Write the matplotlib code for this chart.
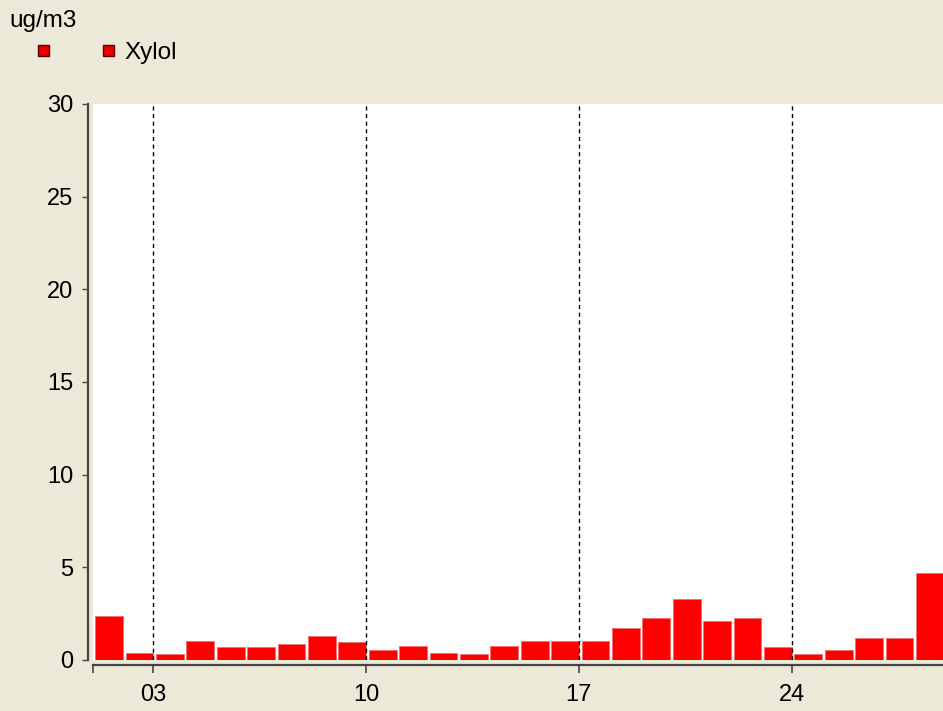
import matplotlib.pyplot as plt
from matplotlib.patches import Rectangle

# daily Xylol values (ug/m3), days 1..28 of the month
days = list(range(1, 29))
xylol = [2.4, 0.4, 0.3, 1.0, 0.7, 0.7, 0.85, 1.3, 0.95, 0.55,
         0.75, 0.4, 0.3, 0.75, 1.0, 1.0, 1.0, 1.7, 2.25, 3.3,
         2.1, 2.25, 0.7, 0.3, 0.55, 1.2, 1.2, 4.7]

week_ticks = [3, 10, 17, 24]
week_labels = ['03', '10', '17', '24']
y_ticks = [0, 5, 10, 15, 20, 25, 30]

bg = '#ECE9D8'
plt.rcParams['font.family'] = ['Liberation Sans', 'DejaVu Sans']

W, H = 943, 711
fig = plt.figure(figsize=(W / 100, H / 100), dpi=100, facecolor=bg)
ax = fig.add_axes([92.5 / W, (H - 660) / H, 1 - 92.5 / W, (660 - 104) / H])
ax.set_facecolor('white')

ax.bar([d + 0.09 for d in days], xylol, width=0.91, align='edge',
       color='#FF0000', edgecolor='#F07070', lw=0.6, zorder=2)

for d in week_ticks:
    ax.axvline(d, color='black', lw=1, ls=(0, (3, 2.5)), zorder=3)

ax.set_xlim(1, 1 + (W - 92.5) / 30.4)
ax.set_ylim(0, 30)

ax.set_xticks([1] + week_ticks)
ax.set_xticklabels([''] + week_labels)
ax.set_yticks(y_ticks)
ax.set_yticklabels([str(v) for v in y_ticks])

for side in ['top', 'right']:
    ax.spines[side].set_visible(False)
for side in ['left', 'bottom']:
    ax.spines[side].set_position(('outward', 3.6))
    ax.spines[side].set_color('#444444')
    ax.spines[side].set_linewidth(1.6)

ax.tick_params(axis='y', length=4, width=1, color='#444444', pad=6,
               labelsize=17)
ax.tick_params(axis='x', length=6, width=1.2, color='#444444', pad=8,
               labelsize=17)

# unit and legend header
fig.text(9 / W, (H - 27) / H, 'ug/m3', fontsize=17.5, va='baseline')
for cx in [43, 108]:
    fig.add_artist(Rectangle(((cx - 5.5) / W, (H - 56) / H), 11 / W, 11 / H,
                             transform=fig.transFigure, facecolor='#EE0000',
                             edgecolor='#550000', lw=1))
fig.text(124 / W, (H - 59) / H, 'Xylol', fontsize=17.5, va='baseline')

fig.savefig('out.png', dpi=100, facecolor=bg)
